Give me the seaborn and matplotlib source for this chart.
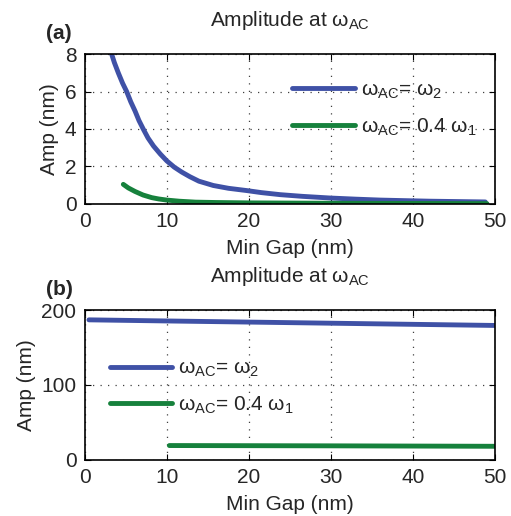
import numpy as np
import pandas as pd
import matplotlib
matplotlib.use('Agg')
import matplotlib.pyplot as plt
import seaborn as sns

# panel (a) values
gap_a_w2 = [3.27, 3.6, 4.08, 4.6, 5.1, 5.6, 6.12, 6.6, 7.14, 7.7, 8.37, 9.2, 10.0, 10.9, 11.8, 12.8,
            13.9, 15.65, 17.5, 19.7, 21.5, 23.8, 26.5, 29.9, 33.0, 36.0, 39.0, 42.1, 45.5, 48.8]
amp_a_w2 = [8.0, 7.55, 7.0, 6.45, 6.0, 5.45, 4.96, 4.45, 3.98, 3.52, 3.09, 2.66, 2.29, 1.96, 1.7, 1.45,
            1.21, 0.98, 0.83, 0.71, 0.6, 0.49, 0.4, 0.31, 0.25, 0.2, 0.17, 0.14, 0.12, 0.1]
gap_a_w1 = [4.69, 5.3, 6.12, 7.1, 8.16, 9.0, 10.0, 11.5, 13.5, 16.0, 20.0, 25.0, 30.0, 40.0, 49.0]
amp_a_w1 = [1.04, 0.85, 0.66, 0.47, 0.33, 0.26, 0.2, 0.14, 0.09, 0.07, 0.05, 0.04, 0.03, 0.02, 0.01]

# panel (b)
gap_b_w2 = [0.5, 10, 20, 30, 40, 50]
amp_b_w2 = [187, 185.5, 184, 182.5, 181, 179.5]
gap_b_w1 = [10.3, 20, 30, 40, 50]
amp_b_w1 = [19, 18.8, 18.6, 18.3, 18]

lab_w2 = r'$\omega_{AC}$= $\omega_2$'
lab_w1 = r'$\omega_{AC}$= 0.4 $\omega_1$'
blue = '#3f51a6'
green = '#16813c'

sns.set_style('ticks')
plt.rcParams['font.family'] = ['Liberation Sans', 'DejaVu Sans']
plt.rcParams['mathtext.fontset'] = 'custom'
plt.rcParams['mathtext.rm'] = 'Liberation Sans'
plt.rcParams['mathtext.it'] = 'Liberation Sans'
plt.rcParams['font.size'] = 15

fig = plt.figure(figsize=(5.11, 5.16), dpi=100)
ax1 = fig.add_axes([0.166, 0.605, 0.803, 0.29])
ax2 = fig.add_axes([0.166, 0.109, 0.803, 0.29])

dfa = pd.concat([
    pd.DataFrame({'gap': gap_a_w2, 'amp': amp_a_w2, 'mode': lab_w2}),
    pd.DataFrame({'gap': gap_a_w1, 'amp': amp_a_w1, 'mode': lab_w1}),
])
dfb = pd.concat([
    pd.DataFrame({'gap': gap_b_w2, 'amp': amp_b_w2, 'mode': lab_w2}),
    pd.DataFrame({'gap': gap_b_w1, 'amp': amp_b_w1, 'mode': lab_w1}),
])
pal = {lab_w2: blue, lab_w1: green}

sns.lineplot(data=dfa, x='gap', y='amp', hue='mode', palette=pal, lw=3.5, ax=ax1)
sns.lineplot(data=dfb, x='gap', y='amp', hue='mode', palette=pal, lw=3.5, ax=ax2)

ax1.set_ylim(0, 8)
ax1.set_yticks([0, 2, 4, 6, 8])
ax2.set_ylim(0, 200)
ax2.set_yticks([0, 100, 200])

for ax, tag in [(ax1, '(a)'), (ax2, '(b)')]:
    ax.set_xlim(0, 50)
    ax.set_xticks([0, 10, 20, 30, 40, 50])
    ax.grid(True, ls=(0, (1, 5)), color='0.25', lw=0.9)
    ax.set_xlabel('Min Gap (nm)', labelpad=6)
    ax.set_ylabel('Amp (nm)', labelpad=4)
    ax.set_title(r'Amplitude at $\omega_{AC}$', fontsize=15, pad=20)
    ax.tick_params(direction='in', length=4, color='k', top=True, right=True, pad=6)
    for s in ax.spines.values():
        s.set_color('k')
        s.set_linewidth(1.2)
    ax.text(-0.095, 1.1, tag, transform=ax.transAxes, fontweight='bold', fontsize=15)

ax1.legend(frameon=False, loc='upper left', bbox_to_anchor=(0.46, 0.95),
           handlelength=3.0, handletextpad=0.3, labelspacing=0.75, fontsize=15)
ax2.legend(frameon=False, loc='upper left', bbox_to_anchor=(0.015, 0.8),
           handlelength=3.0, handletextpad=0.3, labelspacing=0.75, fontsize=15)

fig.savefig('out.png', dpi=100)
